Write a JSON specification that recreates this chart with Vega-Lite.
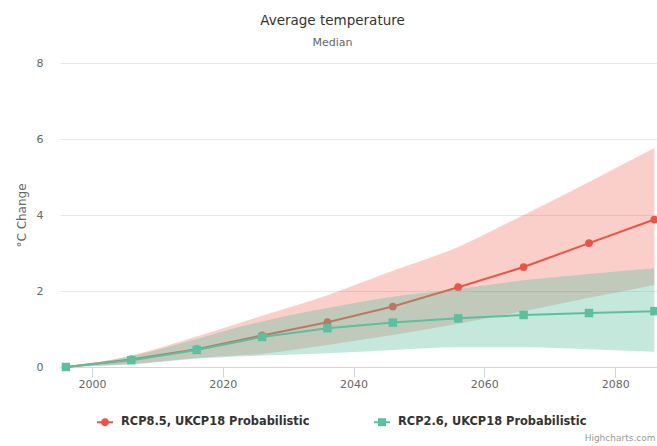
{
  "$schema": "https://vega.github.io/schema/vega-lite/v6.json",
  "width": 597,
  "height": 304,
  "autosize": "none",
  "padding": {"left": 60, "top": 63, "right": 0, "bottom": 79},
  "title": {
    "text": "Average temperature",
    "subtitle": "Median",
    "anchor": "middle",
    "frame": "group",
    "dx": -26,
    "offset": 9,
    "fontSize": 13.5,
    "fontWeight": "normal",
    "color": "#333333",
    "subtitleFontSize": 11,
    "subtitleColor": "#666666",
    "subtitlePadding": 10
  },
  "data": {
    "values": [
      {"series": "RCP8.5, UKCP18 Probabilistic", "year": 1996, "median": 0, "low": 0, "high": 0},
      {"series": "RCP8.5, UKCP18 Probabilistic", "year": 2006, "median": 0.2, "low": 0.08, "high": 0.3},
      {"series": "RCP8.5, UKCP18 Probabilistic", "year": 2016, "median": 0.47, "low": 0.24, "high": 0.8},
      {"series": "RCP8.5, UKCP18 Probabilistic", "year": 2026, "median": 0.83, "low": 0.35, "high": 1.35},
      {"series": "RCP8.5, UKCP18 Probabilistic", "year": 2036, "median": 1.18, "low": 0.58, "high": 1.89},
      {"series": "RCP8.5, UKCP18 Probabilistic", "year": 2046, "median": 1.59, "low": 0.84, "high": 2.53},
      {"series": "RCP8.5, UKCP18 Probabilistic", "year": 2056, "median": 2.1, "low": 1.14, "high": 3.16},
      {"series": "RCP8.5, UKCP18 Probabilistic", "year": 2066, "median": 2.63, "low": 1.47, "high": 4.0},
      {"series": "RCP8.5, UKCP18 Probabilistic", "year": 2076, "median": 3.26, "low": 1.82, "high": 4.87},
      {"series": "RCP8.5, UKCP18 Probabilistic", "year": 2086, "median": 3.88, "low": 2.16, "high": 5.76},
      {"series": "RCP2.6, UKCP18 Probabilistic", "year": 1996, "median": 0, "low": 0, "high": 0},
      {"series": "RCP2.6, UKCP18 Probabilistic", "year": 2006, "median": 0.18, "low": 0.07, "high": 0.28},
      {"series": "RCP2.6, UKCP18 Probabilistic", "year": 2016, "median": 0.45, "low": 0.22, "high": 0.74},
      {"series": "RCP2.6, UKCP18 Probabilistic", "year": 2026, "median": 0.79, "low": 0.3, "high": 1.2},
      {"series": "RCP2.6, UKCP18 Probabilistic", "year": 2036, "median": 1.02, "low": 0.36, "high": 1.55},
      {"series": "RCP2.6, UKCP18 Probabilistic", "year": 2046, "median": 1.17, "low": 0.45, "high": 1.85},
      {"series": "RCP2.6, UKCP18 Probabilistic", "year": 2056, "median": 1.28, "low": 0.52, "high": 2.05},
      {"series": "RCP2.6, UKCP18 Probabilistic", "year": 2066, "median": 1.37, "low": 0.52, "high": 2.28},
      {"series": "RCP2.6, UKCP18 Probabilistic", "year": 2076, "median": 1.42, "low": 0.47, "high": 2.45},
      {"series": "RCP2.6, UKCP18 Probabilistic", "year": 2086, "median": 1.47, "low": 0.4, "high": 2.6}
    ]
  },
  "encoding": {
    "x": {
      "field": "year",
      "type": "quantitative",
      "scale": {"domain": [1995.1, 2086.4], "nice": false, "zero": false},
      "axis": {
        "values": [2000, 2020, 2040, 2060, 2080],
        "format": "d",
        "grid": false,
        "domainColor": "#ccd6eb",
        "tickColor": "#ccd6eb",
        "tickSize": 10,
        "labelPadding": 1,
        "labelColor": "#666666",
        "labelFontSize": 11,
        "title": "Highcharts.com",
        "titleAnchor": "end",
        "titleAlign": "right",
        "titleX": 595,
        "titleY": 73,
        "titleBaseline": "alphabetic",
        "titleFontSize": 9,
        "titleFontWeight": "normal",
        "titleColor": "#999999"
      }
    },
    "color": {
      "field": "series",
      "type": "nominal",
      "scale": {
        "domain": ["RCP8.5, UKCP18 Probabilistic", "RCP2.6, UKCP18 Probabilistic"],
        "range": ["#ee5242", "#5cc09e"]
      },
      "legend": {
        "title": null,
        "orient": "none",
        "legendX": 37,
        "legendY": 351,
        "direction": "horizontal",
        "padding": 0,
        "symbolSize": 256,
        "symbolStrokeWidth": 0,
        "labelOffset": 8,
        "labelLimit": 400,
        "columnPadding": 64,
        "labelFontSize": 11.4,
        "labelFontWeight": "bold",
        "labelColor": "#333333",
        "encode": {
          "symbols": {
            "update": {
              "shape": {"signal": "datum.value === 'RCP8.5, UKCP18 Probabilistic' ? 'M-1,-0.12H1V0.12H-1Z M-0.5,0A0.5,0.5 0 1,1 0.5,0A0.5,0.5 0 1,1 -0.5,0' : 'M-1,-0.12H1V0.12H-1Z M-0.5,-0.5H0.5V0.5H-0.5Z'"},
              "fill": {"scale": "color", "field": "value"},
              "stroke": {"value": "transparent"},
              "opacity": {"value": 1},
              "fillOpacity": {"value": 1}
            }
          }
        }
      }
    }
  },
  "layer": [
    {
      "transform": [{"filter": "datum.series === 'RCP8.5, UKCP18 Probabilistic'"}],
      "mark": {"type": "area", "opacity": 0.28, "interpolate": "monotone"},
      "encoding": {
        "y": {
          "field": "low",
          "type": "quantitative",
          "scale": {"domain": [0, 8], "nice": false},
          "axis": {
            "values": [0, 2, 4, 6, 8],
            "gridColor": "#e6e6e6",
            "domain": false,
            "ticks": false,
            "labelPadding": 17,
            "labelColor": "#666666",
            "labelFontSize": 11,
            "title": "°C Change",
            "titleColor": "#666666",
            "titleFontSize": 12,
            "titleFontWeight": "normal",
            "titlePadding": 8
          }
        },
        "y2": {"field": "high"}
      }
    },
    {
      "transform": [{"filter": "datum.series === 'RCP8.5, UKCP18 Probabilistic'"}],
      "mark": {"type": "line", "strokeWidth": 2},
      "encoding": {"y": {"field": "median", "type": "quantitative"}}
    },
    {
      "transform": [{"filter": "datum.series === 'RCP8.5, UKCP18 Probabilistic'"}],
      "mark": {"type": "point", "shape": "circle", "filled": true, "size": 60, "opacity": 1},
      "encoding": {"y": {"field": "median", "type": "quantitative"}}
    },
    {
      "transform": [{"filter": "datum.series === 'RCP2.6, UKCP18 Probabilistic'"}],
      "mark": {"type": "area", "opacity": 0.36, "interpolate": "monotone"},
      "encoding": {
        "y": {"field": "low", "type": "quantitative"},
        "y2": {"field": "high"}
      }
    },
    {
      "transform": [{"filter": "datum.series === 'RCP2.6, UKCP18 Probabilistic'"}],
      "mark": {"type": "line", "strokeWidth": 2},
      "encoding": {"y": {"field": "median", "type": "quantitative"}}
    },
    {
      "transform": [{"filter": "datum.series === 'RCP2.6, UKCP18 Probabilistic'"}],
      "mark": {"type": "point", "shape": "square", "filled": true, "size": 72, "opacity": 1},
      "encoding": {"y": {"field": "median", "type": "quantitative"}}
    }
  ],
  "config": {
    "font": "DejaVu Sans",
    "view": {"stroke": null},
    "axis": {"labelFont": "DejaVu Sans", "titleFont": "DejaVu Sans"},
    "legend": {"labelFont": "DejaVu Sans"}
  }
}
